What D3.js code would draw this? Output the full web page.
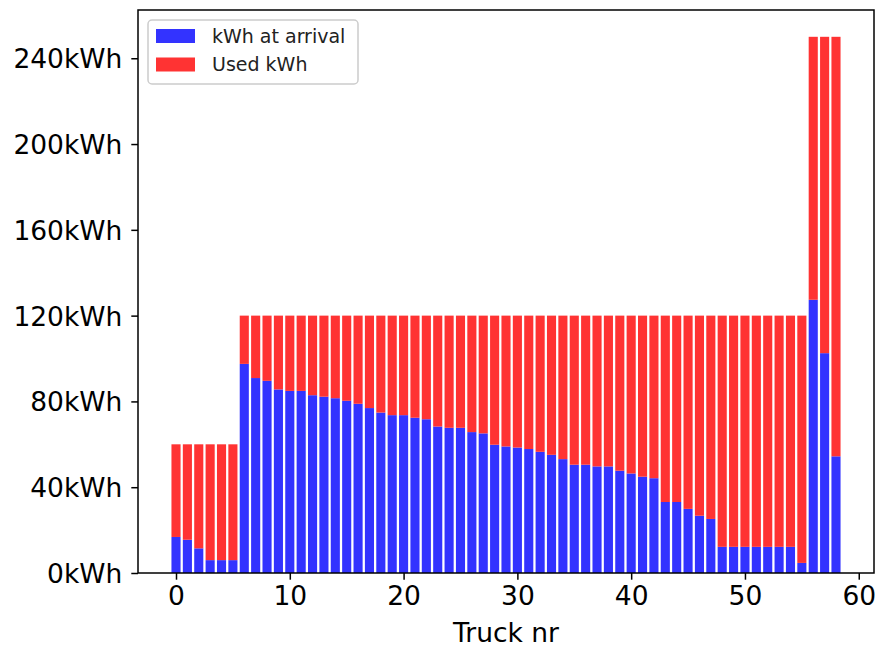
<!DOCTYPE html>
<html>
<head>
<meta charset="utf-8">
<script src="https://cdn.jsdelivr.net/npm/d3@7"></script>
<style>
  body { margin: 0; background: #fff; }
  svg { font-family: "DejaVu Sans", sans-serif; }
</style>
</head>
<body>
<div id="chart"></div>
<script>
// battery state per truck
const arrivalKwh = [
  16.8, 15.5, 11.5, 6, 6, 6,
  97.5, 90.9, 89.6, 85.6, 84.9, 84.9, 82.9, 82.2, 81.5, 80.3, 78.9, 76.9, 74.8, 73.6,
  73.6, 72.4, 71.7, 68.3, 67.7, 67.7, 65.7, 65.1, 59.8, 59.0, 58.5, 57.8, 56.5, 55.1,
  53.1, 50.5, 50.5, 49.7, 49.7, 47.7, 46.4, 44.9, 44.2, 33.1, 33.1, 29.9, 26.7, 25.2,
  12.2, 12.2, 12.2, 12.2, 12.2, 12.2, 12.2, 4.7,
  127.4, 102.5, 54.4
];
const capacityKwh = [
  60, 60, 60, 60, 60, 60,
  120, 120, 120, 120, 120, 120, 120, 120, 120, 120, 120, 120, 120, 120,
  120, 120, 120, 120, 120, 120, 120, 120, 120, 120, 120, 120, 120, 120,
  120, 120, 120, 120, 120, 120, 120, 120, 120, 120, 120, 120, 120, 120,
  120, 120, 120, 120, 120, 120, 120, 120,
  250, 250, 250
];
const yTicks = [0, 40, 80, 120, 160, 200, 240];
const xTicks = [0, 10, 20, 30, 40, 50, 60];
const seriesNames = ["kWh at arrival", "Used kWh"];
const seriesColors = ["#3333ff", "#ff3333"];

const width = 877, height = 650;
const margin = { top: 10, right: 3, bottom: 77, left: 138 };

const data = arrivalKwh.map((a, i) => ({ truck: i, arrival: a, used: capacityKwh[i] - a }));

const x = d3.scaleLinear()
  .domain([-3.34, 61.34])
  .range([margin.left, width - margin.right]);
const y = d3.scaleLinear()
  .domain([0, 262.5])
  .range([height - margin.bottom, margin.top]);

const svg = d3.select("#chart").append("svg")
  .attr("width", width)
  .attr("height", height);

const bw = x(0.8) - x(0);

svg.append("g").selectAll("rect")
  .data(data)
  .join("rect")
  .attr("x", d => x(d.truck - 0.4))
  .attr("width", bw)
  .attr("y", d => y(d.arrival))
  .attr("height", d => y(0) - y(d.arrival))
  .attr("fill", seriesColors[0]);

svg.append("g").selectAll("rect")
  .data(data)
  .join("rect")
  .attr("x", d => x(d.truck - 0.4))
  .attr("width", bw)
  .attr("y", d => y(d.arrival + d.used))
  .attr("height", d => y(d.arrival) - y(d.arrival + d.used))
  .attr("fill", seriesColors[1]);

// axes
const xAxis = svg.append("g")
  .attr("transform", `translate(0,${height - margin.bottom})`)
  .call(d3.axisBottom(x).tickValues(xTicks).tickSize(6.7).tickPadding(6).tickSizeOuter(0));
const yAxis = svg.append("g")
  .attr("transform", `translate(${margin.left},0)`)
  .call(d3.axisLeft(y).tickValues(yTicks).tickFormat(d => d + "kWh").tickSize(6.7).tickPadding(9).tickSizeOuter(0));

[xAxis, yAxis].forEach(g => {
  g.select(".domain").remove();
  g.selectAll(".tick line").attr("stroke", "#000").attr("stroke-width", 1.5);
  g.selectAll(".tick text").attr("font-size", 26.5).attr("fill", "#000")
    .attr("font-family", "DejaVu Sans");
});
yAxis.selectAll(".tick text").attr("dy", "0.36em");

// frame
svg.append("rect")
  .attr("x", margin.left)
  .attr("y", margin.top)
  .attr("width", width - margin.right - margin.left)
  .attr("height", height - margin.bottom - margin.top)
  .attr("fill", "none")
  .attr("stroke", "#000")
  .attr("stroke-width", 1.5);

svg.append("text")
  .attr("x", (margin.left + width - margin.right) / 2)
  .attr("y", 642)
  .attr("text-anchor", "middle")
  .attr("font-size", 26.5)
  .text("Truck nr");

// legend
const lg = svg.append("g");
lg.append("rect")
  .attr("x", 148).attr("y", 20)
  .attr("width", 210).attr("height", 64)
  .attr("rx", 4)
  .attr("fill", "#fff").attr("fill-opacity", 0.8)
  .attr("stroke", "#cccccc").attr("stroke-width", 1.5);

const items = lg.selectAll(".item")
  .data(seriesNames)
  .join("g")
  .attr("class", "item")
  .attr("transform", (d, i) => `translate(0,${36 + i * 28.5})`);
items.append("rect")
  .attr("x", 156).attr("y", -7)
  .attr("width", 39).attr("height", 14)
  .attr("fill", (d, i) => seriesColors[i]);
items.append("text")
  .attr("x", 212)
  .attr("dy", "0.36em")
  .attr("font-size", 19)
  .attr("fill", "#222")
  .text(d => d);
</script>
</body>
</html>
